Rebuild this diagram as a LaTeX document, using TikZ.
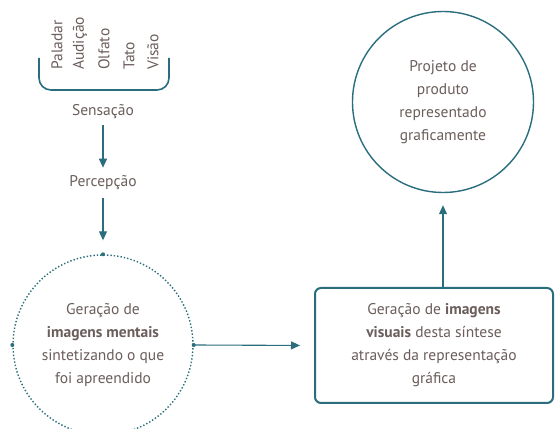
\documentclass[tikz,border=0pt]{standalone}
\usepackage{fontspec}
\setmainfont{PT Sans}
\usetikzlibrary{arrows.meta}
\definecolor{petrol}{HTML}{2A6E7D}
\definecolor{texto}{HTML}{6B5E5B}

\begin{document}
\begin{tikzpicture}[x=1pt, y=1pt,
		every node/.style={text=texto, font=\fontsize{15.5}{23}\selectfont},
		sense/.style={rotate=90, anchor=west, inner sep=0pt},
		step_label/.style={align=center, inner sep=2pt},
		mental/.style={circle, draw=petrol, dotted, line width=1.4pt, minimum size=180pt, align=center},
		product/.style={circle, draw=petrol, line width=1.4pt, minimum size=181pt, align=center},
		visualbox/.style={rectangle, draw=petrol, line width=2pt, rounded corners=6pt, minimum width=238pt, minimum height=115pt, align=center},
		flow/.style={-{Triangle[length=9pt, width=8pt]}, line width=1.1pt, petrol}
		]
		\useasboundingbox[fill=white] (0,0) rectangle (558,429);
		
		% Os cinco sentidos
		\node[sense] (paladar) at (57,359) {Paladar};
		\node[sense] (audicao) at (80,359) {Audição};
		\node[sense] (olfato) at (104,359) {Olfato};
		\node[sense] (tato) at (129,359) {Tato};
		\node[sense] (visao) at (153,359) {Visão};
		\draw[petrol, line width=1.6pt, rounded corners=12pt] (39,371) |- (169,339) -- (169,371);
		
		% Sensação e percepção
		\node[step_label] (sensacao) at (103,317) {Sensação};
		\node[step_label] (percepcao) at (103,246) {Percepção};
		\draw[flow] ([yshift=-4pt]sensacao.south) -- ([yshift=6pt]percepcao.north);
		
		% Imagens mentais
		\node[mental] (mentais) at (103,84) {Geração de\\\textbf{imagens mentais}\\sintetizando o que\\foi apreendido};
		\foreach \p in {north, west, east}
			\fill[petrol] (mentais.\p) circle (2pt);
		\draw[flow] ([yshift=-6pt]percepcao.south) -- ([yshift=14pt]mentais.north);
		
		% Imagens visuais
		\node[visualbox] (visuais) at (434,83.5) {Geração de \textbf{imagens}\\\textbf{visuais} desta síntese\\através da representação\\gráfica};
		\draw[flow, shorten >=14pt] (mentais.east) -- (visuais.west);
		
		% Projeto de produto
		\node[product] (projeto) at (443,327) {Projeto de\\produto\\representado\\graficamente};
		\draw[flow] (projeto.south |- visuais.north) -- ([yshift=-12pt]projeto.south);
		
	\end{tikzpicture}
\end{document}
